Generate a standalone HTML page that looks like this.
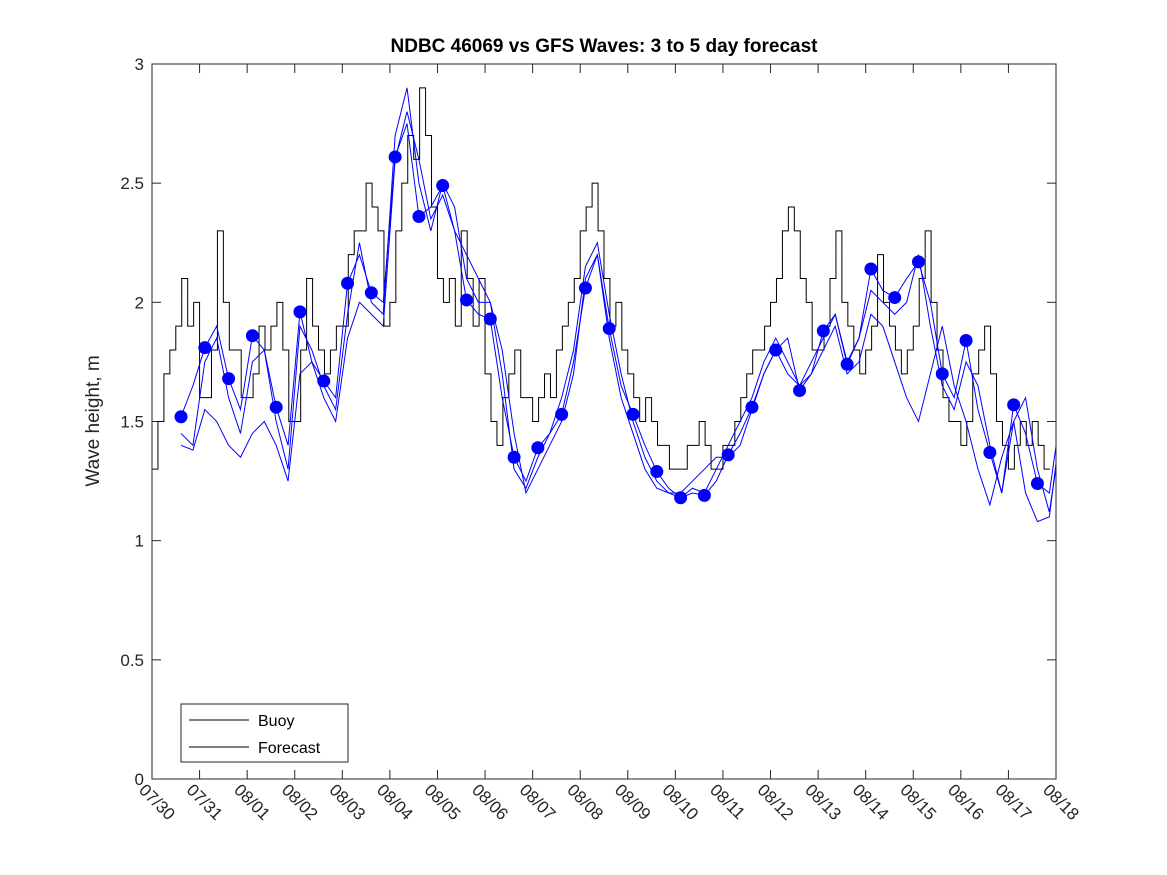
<!DOCTYPE html>
<html><head><meta charset="utf-8">
<style>
body{margin:0;background:#fff;}
svg{display:block;font-family:"Liberation Sans","DejaVu Sans",sans-serif;}
</style></head>
<body>
<svg id="chart" width="1167" height="875" viewBox="0 0 1167 875">
<defs><clipPath id="plotclip"><rect x="152" y="64" width="904" height="715"/></clipPath></defs>
<rect x="0" y="0" width="1167" height="875" fill="#fff"/>
<text x="604" y="52" text-anchor="middle" font-size="19" font-weight="bold">NDBC 46069 vs GFS Waves: 3 to 5 day forecast</text>
<text transform="translate(99,421) rotate(-90)" text-anchor="middle" font-size="19" fill="#262626">Wave height, m</text>
<g id="axes"></g>
<g id="series" clip-path="url(#plotclip)"></g>
<rect x="152" y="64" width="904" height="715" fill="none" stroke="#262626" stroke-width="1"/>
<g>
<rect x="181" y="704" width="167" height="58" fill="#fff" stroke="#262626"/>
<line x1="189" y1="720" x2="249" y2="720" stroke="#000"/>
<text x="258" y="726" font-size="16">Buoy</text>
<line x1="189" y1="747" x2="249" y2="747" stroke="#000"/>
<text x="258" y="753" font-size="16">Forecast</text>
</g>
</svg>
<script>
const dateLabels=["07/30","07/31","08/01","08/02","08/03","08/04","08/05","08/06","08/07","08/08","08/09","08/10","08/11","08/12","08/13","08/14","08/15","08/16","08/17","08/18"];
const yTicks=[0,0.5,1,1.5,2,2.5,3];
const yTickLabels=["0","0.5","1","1.5","2","2.5","3"];
// buoy: 3-hourly, starting day 0
const buoy=[1.3,1.5,1.7,1.8,1.9,2.1,1.9,2.0,
1.6,1.6,1.8,2.3,2.0,1.8,1.8,1.6,
1.6,1.7,1.9,1.8,1.9,2.0,1.8,1.5,
1.5,1.8,2.1,1.9,1.8,1.7,1.8,1.9,
1.9,2.2,2.3,2.3,2.5,2.4,2.3,1.9,
2.0,2.3,2.5,2.7,2.6,2.9,2.7,2.4,
2.1,2.0,2.1,1.9,2.3,2.1,1.9,2.1,
1.7,1.5,1.4,1.6,1.7,1.8,1.6,1.6,
1.5,1.6,1.7,1.6,1.8,1.9,2.0,2.1,
2.3,2.4,2.5,2.3,2.1,1.9,2.0,1.8,
1.7,1.6,1.5,1.6,1.5,1.4,1.4,1.3,
1.3,1.3,1.4,1.4,1.5,1.4,1.3,1.3,
1.4,1.4,1.5,1.6,1.7,1.8,1.8,1.9,
2.0,2.1,2.3,2.4,2.3,2.1,2.0,1.8,
1.8,1.9,2.1,2.3,2.0,1.9,1.8,1.7,
1.8,1.9,2.2,2.0,1.9,1.8,1.7,1.8,
1.9,2.1,2.3,2.0,1.8,1.6,1.5,1.5,
1.4,1.5,1.7,1.8,1.9,1.7,1.5,1.4,
1.3,1.4,1.5,1.4,1.5,1.4,1.3];
// forecast series: 6-hourly from day 0.61
const fcA=[1.52,1.65,1.81,1.9,1.68,1.55,1.86,1.8,1.56,1.4,1.96,1.75,1.67,1.6,2.08,2.2,2.04,2.0,2.61,2.75,2.36,2.4,2.49,2.3,2.01,1.95,1.93,1.6,1.35,1.25,1.39,1.45,1.53,1.75,2.06,2.2,1.89,1.65,1.53,1.4,1.29,1.22,1.18,1.2,1.19,1.25,1.36,1.45,1.56,1.7,1.8,1.85,1.63,1.7,1.88,1.95,1.74,1.85,2.14,2.05,2.02,2.1,2.17,2.0,1.7,1.6,1.84,1.55,1.37,1.2,1.57,1.45,1.24,1.2,1.55];
const fcB=[1.45,1.4,1.75,1.85,1.6,1.45,1.75,1.8,1.5,1.3,1.9,1.8,1.65,1.55,1.95,2.25,2.0,1.95,2.7,2.9,2.5,2.3,2.5,2.4,2.1,2.0,2.0,1.7,1.3,1.22,1.35,1.45,1.6,1.8,2.15,2.25,1.95,1.7,1.5,1.35,1.25,1.2,1.18,1.22,1.2,1.3,1.4,1.5,1.6,1.75,1.85,1.75,1.65,1.75,1.85,1.95,1.75,1.85,2.05,2.0,1.95,2.0,2.2,1.9,1.65,1.55,1.75,1.65,1.4,1.2,1.5,1.6,1.3,1.12,1.45];
const fcC=[1.4,1.38,1.55,1.5,1.4,1.35,1.45,1.5,1.4,1.25,1.7,1.75,1.6,1.5,1.85,2.0,1.95,1.9,2.6,2.8,2.6,2.35,2.45,2.3,2.2,2.1,2.0,1.8,1.45,1.2,1.3,1.4,1.5,1.7,2.1,2.2,1.85,1.6,1.45,1.3,1.22,1.2,1.2,1.25,1.3,1.35,1.35,1.4,1.55,1.7,1.8,1.7,1.65,1.7,1.8,1.9,1.7,1.75,1.95,1.9,1.75,1.6,1.5,1.7,1.9,1.65,1.5,1.3,1.15,1.35,1.5,1.2,1.08,1.1,1.5];
// forecast markers every 12h from day 0.61
const dots=[1.52,1.81,1.68,1.86,1.56,1.96,1.67,2.08,2.04,2.61,2.36,2.49,2.01,1.93,1.35,1.39,1.53,2.06,1.89,1.53,1.29,1.18,1.19,1.36,1.56,1.80,1.63,1.88,1.74,2.14,2.02,2.17,1.70,1.84,1.37,1.57,1.24];

const X0=152,X1=1056,Y0=779,Y1=64;
const xs=d=>X0+(X1-X0)*d/19;
const ys=v=>Y0-(Y0-Y1)*v/3;
const NS="http://www.w3.org/2000/svg";
const axes=document.getElementById('axes');
const ser=document.getElementById('series');
function mk(tag,attrs,parent){const e=document.createElementNS(NS,tag);for(const k in attrs)e.setAttribute(k,attrs[k]);parent.appendChild(e);return e;}

dateLabels.forEach((lab,i)=>{
  const x=xs(i);
  const t1=mk('line',{x1:x,y1:Y0,x2:x,y2:Y0-9,stroke:'#262626'},axes);
  
  
  const t2=mk('line',{x1:x,y1:Y1,x2:x,y2:Y1+9,stroke:'#262626'},axes);
  
  
  const tx=mk('text',{x:0,y:0,'font-size':17,fill:'#262626',transform:`translate(${x-14},${Y0+12}) rotate(45)`},axes);
  tx.textContent=lab;
  
  
});
yTicks.forEach((v,i)=>{
  const y=ys(v);
  const a=mk('line',{x1:X0,y1:y,x2:X0+9,y2:y,stroke:'#262626'},axes);
  
  
  const b=mk('line',{x1:X1,y1:y,x2:X1-9,y2:y,stroke:'#262626'},axes);
  
  
  const tx=mk('text',{x:X0-8,y:y+6,'text-anchor':'end','font-size':17,fill:'#262626'},axes);
  tx.textContent=yTickLabels[i];
  
  
});

let d='';
buoy.forEach((v,i)=>{
  const x=xs(i*0.125),y=ys(v);
  d+= i===0?`M${x},${y}`:`H${x}V${y}`;
});
d+=`H${xs(buoy.length*0.125)}`;
const bl=mk('path',{d:d,fill:'none',stroke:'#000','stroke-width':1},ser);



[fcA,fcB,fcC].forEach((arr,k)=>{
  const pts=arr.map((v,i)=>`${xs(0.61+0.25*i)},${ys(v)}`).join(' ');
  const p=mk('polyline',{points:pts,fill:'none',stroke:'#0000ff','stroke-width':1},ser);
  
  
});
dots.forEach((v,i)=>{
  const c=mk('circle',{cx:xs(0.61+0.5*i),cy:ys(v),r:6.5,fill:'#0000ff'},ser);
  
  
});
</script>
</body></html>
